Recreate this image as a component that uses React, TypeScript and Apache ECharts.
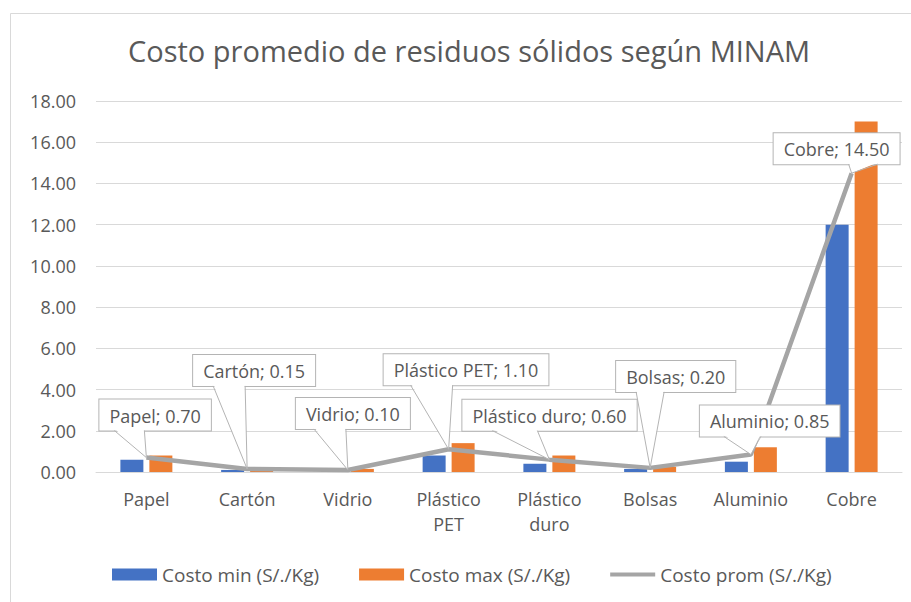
import React, { useEffect, useRef } from "react";
import * as echarts from "echarts";

const categories = ["Papel", "Cartón", "Vidrio", "Plástico\nPET", "Plástico\nduro", "Bolsas", "Aluminio", "Cobre"];
const costMin = [0.6, 0.1, 0.05, 0.8, 0.4, 0.15, 0.5, 12.0];
const costMax = [0.8, 0.2, 0.15, 1.4, 0.8, 0.25, 1.2, 17.0];
const costAvg = [0.7, 0.15, 0.1, 1.1, 0.6, 0.2, 0.85, 14.5];
const seriesNames = ["Costo min (S/./Kg)", "Costo max (S/./Kg)", "Costo prom (S/./Kg)"];
const titleText = "Costo promedio de residuos sólidos según MINAM";
const yMin = 0;
const yMax = 18;
const yStep = 2;

// callout layout: [box-left dx, box-bottom dy, pointer base start, pointer base end] (relative offsets)
const calloutLayout = [
  [-47, -27, 15, 45],
  [-54, -83, 20, 52],
  [-52, -41, 18, 50],
  [-65, -64, 27, 69],
  [-87, -29, 30, 75],
  [-34, -76, 20, 48],
  [-51, -18, 24, 61],
  [-78, -9, 75, 104],
];

const FONT = '"Open Sans", "Noto Sans", sans-serif';
const TXT = "#595959";

export default function App() {
  const ref = useRef<HTMLDivElement>(null);
  useEffect(() => {
    if (!ref.current) return;
    const chart = echarts.init(ref.current, undefined, { renderer: "svg" });
    chart.setOption({
      animation: false,
      backgroundColor: "#ffffff",
      textStyle: { fontFamily: FONT },
      title: {
        text: titleText,
        left: 123,
        top: 31,
        textStyle: { fontFamily: FONT, fontSize: 29, fontWeight: "normal", color: TXT },
      },
      graphic: [
        {
          type: "rect",
          z: -10,
          shape: { x: 10.5, y: 13.5, width: 930, height: 620 },
          style: { fill: "#ffffff", stroke: "#d9d9d9", lineWidth: 1 },
        },
      ],
      legend: {
        data: [
          { name: seriesNames[0], icon: "rect" },
          { name: seriesNames[1], icon: "rect" },
          { name: seriesNames[2], icon: "path://M0,0 L50,0 L50,4.5 L0,4.5 Z" },
        ],
        left: 107,
        top: 560,
        itemWidth: 45,
        itemHeight: 12,
        itemGap: 40,
        textStyle: { fontFamily: FONT, fontSize: 19, color: TXT },
      },
      grid: { left: 96, right: 9, top: 101, bottom: 130, containLabel: false },
      xAxis: {
        type: "category",
        data: categories,
        axisLine: { show: true, lineStyle: { color: "#d9d9d9", width: 1 } },
        axisTick: { show: false },
        axisLabel: { color: TXT, fontSize: 18, fontFamily: FONT, margin: 14, lineHeight: 25 },
      },
      yAxis: {
        type: "value",
        min: yMin,
        max: yMax,
        interval: yStep,
        axisLine: { show: false },
        axisTick: { show: false },
        splitLine: { lineStyle: { color: "#d9d9d9", width: 1 } },
        axisLabel: {
          color: TXT,
          fontSize: 18,
          fontFamily: FONT,
          margin: 20,
          formatter: (v: number) => v.toFixed(2),
        },
      },
      series: [
        {
          name: seriesNames[0],
          type: "bar",
          data: costMin,
          barWidth: 23,
          barGap: "26%",
          itemStyle: { color: "#4472c4" },
        },
        {
          name: seriesNames[1],
          type: "bar",
          data: costMax,
          barWidth: 23,
          barGap: "26%",
          itemStyle: { color: "#ed7d31" },
        },
        {
          name: seriesNames[2],
          type: "line",
          data: costAvg,
          symbol: "none",
          lineStyle: { color: "#a5a5a5", width: 4.5 },
          itemStyle: { color: "#a5a5a5" },
          z: 5,
        },
        {
          type: "custom",
          name: "callouts",
          z: 10,
          silent: true,
          data: costAvg.map((v, i) => [i, v]),
          renderItem: (params: any, api: any) => {
            const i = api.value(0);
            const v = api.value(1);
            const p = api.coord([i, v]);
            const px = p[0];
            const py = p[1];
            const lay = calloutLayout[i];
            const bx = px + lay[0];
            const by = py + lay[1];
            const name = categories[i].replace("\n", " ");
            return {
              type: "group",
              children: [
                {
                  type: "text",
                  style: {
                    text: name + "; " + v.toFixed(2),
                    x: bx,
                    y: by,
                    align: "left",
                    verticalAlign: "bottom",
                    fontSize: 18,
                    fontFamily: FONT,
                    fill: TXT,
                    backgroundColor: "#ffffff",
                    borderColor: "#b4b4b4",
                    borderWidth: 1,
                    padding: [7, 10, 6, 10],
                  },
                },
                {
                  type: "polygon",
                  shape: {
                    points: [
                      [bx + lay[2] + 0.5, by - 1.5],
                      [bx + lay[3] - 0.5, by - 1.5],
                      [px, py],
                    ],
                  },
                  style: { fill: "#ffffff" },
                },
                {
                  type: "polyline",
                  shape: {
                    points: [
                      [bx + lay[2], by],
                      [px, py],
                      [bx + lay[3], by],
                    ],
                  },
                  style: { stroke: "#b4b4b4", lineWidth: 1, fill: null },
                },
              ],
            };
          },
        },
      ],
    });
    return () => chart.dispose();
  }, []);
  return (
    <div
      ref={ref}
      style={{ position: "absolute", left: 0, top: 0, width: 911, height: 602 }}
    />
  );
}
